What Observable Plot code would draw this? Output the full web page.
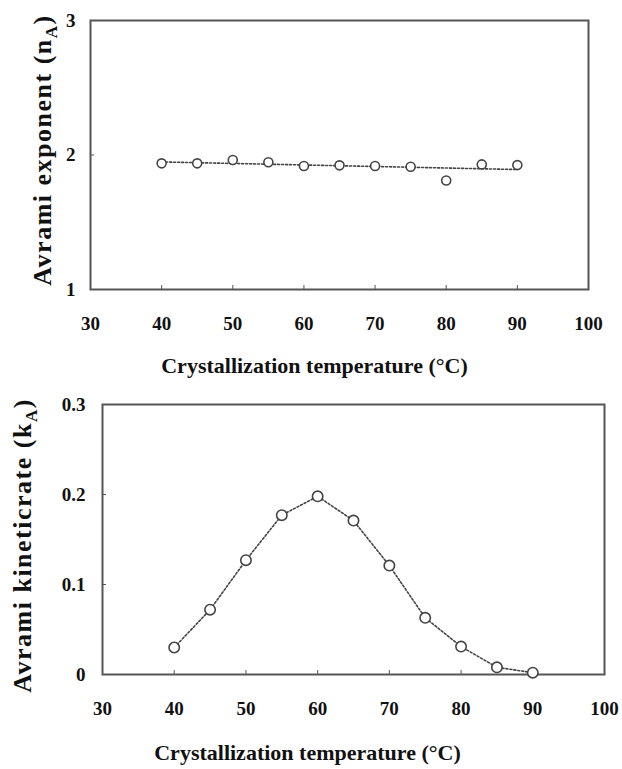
<!DOCTYPE html>
<html><head><meta charset="utf-8">
<script src="https://cdn.jsdelivr.net/npm/d3@7"></script>
<script src="https://cdn.jsdelivr.net/npm/@observablehq/plot@0.6"></script>
<style>
body{margin:0;background:#fff;}
#chart{width:622px;}
#chart svg{display:block;}
</style></head><body><div id="chart"></div>
<script>
const temperatures = [40, 45, 50, 55, 60, 65, 70, 75, 80, 85, 90];
const avramiExponent = [1.938, 1.938, 1.963, 1.946, 1.918, 1.923, 1.918, 1.913, 1.810, 1.930, 1.925];
const avramiRate = [0.030, 0.072, 0.127, 0.177, 0.198, 0.171, 0.121, 0.063, 0.031, 0.008, 0.002];
const xTicks = [30, 40, 50, 60, 70, 80, 90, 100];
const yTicksTop = [1, 2, 3];
const yTicksBottom = [0, 0.1, 0.2, 0.3];
const xTitle = "Crystallization temperature (°C)";
const yTitleTop = "Avrami exponent (nA)";
const yTitleBottom = "Avrami kineticrate (kA)";

const serif = "'Liberation Serif', 'Times New Roman', serif";
const ink = "#444";
const topData = temperatures.map((t, i) => ({t, v: avramiExponent[i]}));
const botData = temperatures.map((t, i) => ({t, v: avramiRate[i]}));

const baseStyle = {fontFamily: serif, fontSize: "19px", fontWeight: "bold", color: "#111", background: "#fff", overflow: "visible"};

const xTitleStyle = {fontSize: 22, fontWeight: "bold", fill: "#111", textAnchor: "middle", lineAnchor: "middle"};
const yTitleStyle = {fontSize: 26, fontWeight: "bold", fill: "#111", textAnchor: "middle", lineAnchor: "middle", rotate: -90, frameAnchor: "left"};

const topChart = Plot.plot({
  width: 622, height: 385,
  marginTop: 20, marginBottom: 96, marginLeft: 90, marginRight: 34,
  style: baseStyle,
  x: {domain: [30, 100]},
  y: {domain: [1, 3]},
  marks: [
    Plot.frame({stroke: "#555", strokeWidth: 2}),
    Plot.axisX({ticks: xTicks, tickSize: -4, tickPadding: 31, label: null, tickFormat: d => String(d), stroke: "#555"}),
    Plot.axisY({ticks: yTicksTop, tickSize: -4, tickPadding: 19, label: null, tickFormat: d => String(d), stroke: "#555"}),
    Plot.linearRegressionY(topData, {x: "t", y: "v", ci: 0, stroke: ink, strokeWidth: 1.6, strokeDasharray: "2,2"}),
    Plot.dot(topData, {x: "t", y: "v", r: 4.5, stroke: ink, strokeWidth: 1.6, fill: "white"}),
    Plot.text([xTitle], {frameAnchor: "bottom", dy: 76, dx: -25, ...xTitleStyle}),
    Plot.text([yTitleTop], {dx: -48, dy: -5, ...yTitleStyle})
  ]
});

const bottomChart = Plot.plot({
  width: 622, height: 384,
  marginTop: 19, marginBottom: 95, marginLeft: 102, marginRight: 18,
  style: baseStyle,
  x: {domain: [30, 100]},
  y: {domain: [0, 0.3]},
  marks: [
    Plot.frame({stroke: "#555", strokeWidth: 2}),
    Plot.axisX({ticks: xTicks, tickSize: -4, tickPadding: 31, label: null, tickFormat: d => String(d), stroke: "#555"}),
    Plot.axisY({ticks: yTicksBottom, tickSize: -4, tickPadding: 21, label: null, tickFormat: d => String(d), stroke: "#555"}),
    Plot.line(botData, {x: "t", y: "v", stroke: ink, strokeWidth: 1.6, strokeDasharray: "2,2"}),
    Plot.dot(botData, {x: "t", y: "v", r: 5.2, stroke: ink, strokeWidth: 1.6, fill: "white"}),
    Plot.text([xTitle], {frameAnchor: "bottom", dy: 78, dx: -46, ...xTitleStyle}),
    Plot.text([yTitleBottom], {dx: -80, dy: 6, ...yTitleStyle})
  ]
});

function styleTitles(svg) {
  const NS = "http://www.w3.org/2000/svg";
  svg.querySelectorAll("text").forEach(t => {
    const s = t.textContent;
    const m = s.match(/^(.*\([nk])A\)$/);
    if (m) {
      t.textContent = "";
      t.setAttribute("letter-spacing", "1.5");
      t.appendChild(document.createTextNode(m[1]));
      const sub = document.createElementNS(NS, "tspan");
      sub.setAttribute("dy", "6");
      sub.setAttribute("font-size", "17");
      sub.textContent = "A";
      t.appendChild(sub);
      const close = document.createElementNS(NS, "tspan");
      close.setAttribute("dy", "-6");
      close.textContent = ")";
      t.appendChild(close);
    }
  });
}
styleTitles(topChart);
styleTitles(bottomChart);

const root = document.getElementById("chart");
root.appendChild(topChart);
root.appendChild(bottomChart);
</script>
</body></html>
